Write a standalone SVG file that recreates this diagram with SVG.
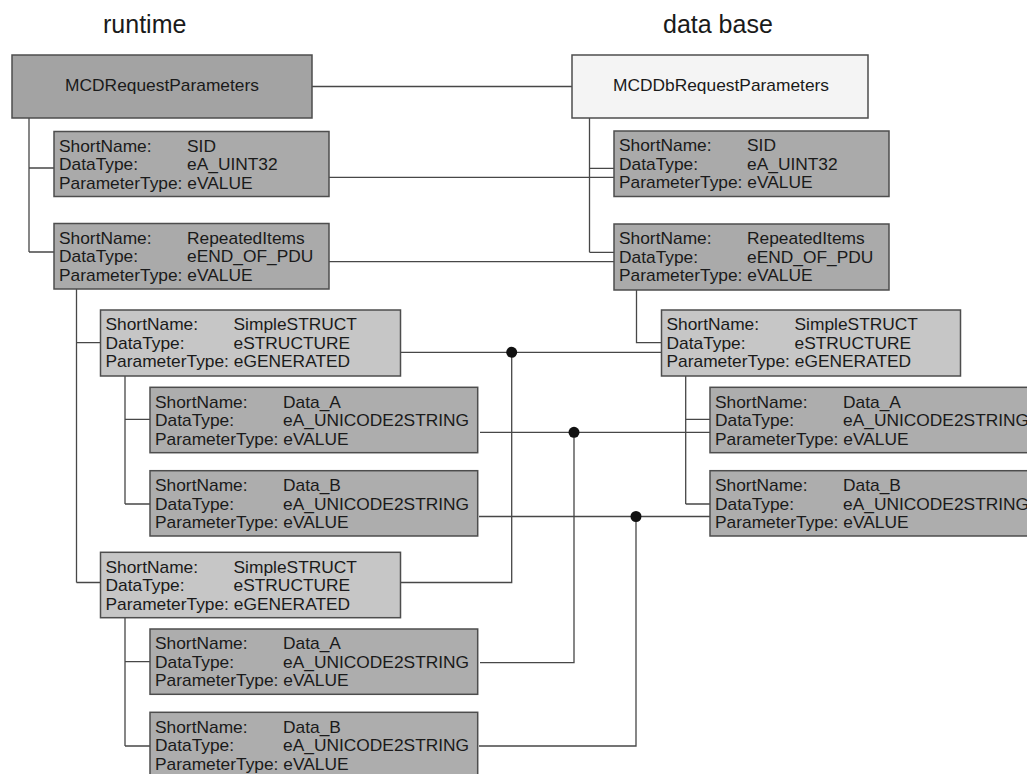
<svg xmlns="http://www.w3.org/2000/svg" width="1027" height="774" viewBox="0 0 1027 774">
  <style>
    .bg { fill: #ffffff; }
    .box { stroke: #4d4d4d; stroke-width: 1.5; }
    .hdrRt { fill: #a3a3a3; }
    .hdrDb { fill: #f4f4f4; }
    .param { fill: #aaaaaa; }
    .struct { fill: #c6c6c6; }
    .data { fill: #adadad; }
    .t { font-family: "Liberation Sans", Arial, sans-serif; font-size: 16px; fill: #1a1a1a; }
    .title { font-family: "Liberation Sans", Arial, sans-serif; font-size: 25px; fill: #1a1a1a; }
    .wire { fill: none; stroke: #474747; stroke-width: 1.3; }
    .dot { fill: #111111; stroke: none; }
  </style>

  <rect class="bg" x="0" y="0" width="1027" height="774"/>

  <!-- column titles -->
  <text class="title" x="103" y="33">runtime</text>
  <text class="title" x="663" y="33">data base</text>

  <!-- connectors -->
  <g id="connectors" class="wire">
    <!-- runtime tree -->
    <path d="M29,118 V252 M29,168 H54 M29,252 H54"/>
    <path d="M76.5,289 V582.5 M76.5,342.7 H100.5 M76.5,582.5 H100.5"/>
    <path d="M125,376 V504 M125,419.3 H150 M125,504 H150"/>
    <path d="M125,617.7 V746 M125,661.7 H150 M125,746 H150"/>
    <!-- data base tree -->
    <path d="M589.5,118 V252.3 M589.5,168.3 H614 M589.5,252.3 H614"/>
    <path d="M636.5,290 V342.7 H661.5"/>
    <path d="M685.7,376 V504 M685.7,419.3 H710 M685.7,504 H710"/>
    <!-- runtime to data base links -->
    <path d="M312,86.5 H572"/>
    <path d="M329,177.3 H614"/>
    <path d="M329,261.7 H614"/>
    <path d="M400.5,352.3 H661.5 M511.7,352.3 V582.5 H395"/>
    <path d="M480,432.3 H710 M574,432.3 V662.7 H480"/>
    <path d="M479,516.5 H710 M636,516.5 V746 H479"/>
    <circle class="dot" cx="511.7" cy="352.3" r="5.5"/>
    <circle class="dot" cx="574" cy="432.3" r="5.5"/>
    <circle class="dot" cx="636" cy="516.5" r="5.5"/>
  </g>

  <!-- runtime side -->
  <g id="rt-request">
    <rect class="box hdrRt" x="12" y="55" width="300" height="63"/>
    <g transform="translate(162,91) scale(1.085,1)">
      <text class="t" x="0" y="0" text-anchor="middle">MCDRequestParameters</text>
    </g>
  </g>

  <g id="rt-sid" transform="translate(54,131.5)">
    <rect class="box param" width="275" height="65"/>
    <g transform="scale(1.085,1)">
      <text class="t" x="4.6" y="20.5">ShortName:</text><text class="t" x="122.6" y="20.5">SID</text>
      <text class="t" x="4.6" y="39">DataType:</text><text class="t" x="122.6" y="39">eA_UINT32</text>
      <text class="t" x="4.6" y="57.5">ParameterType: eVALUE</text>
    </g>
  </g>

  <g id="rt-repeated" transform="translate(54,223.5)">
    <rect class="box param" width="275" height="65.5"/>
    <g transform="scale(1.085,1)">
      <text class="t" x="4.6" y="20.5">ShortName:</text><text class="t" x="122.6" y="20.5">RepeatedItems</text>
      <text class="t" x="4.6" y="39">DataType:</text><text class="t" x="122.6" y="39">eEND_OF_PDU</text>
      <text class="t" x="4.6" y="57.5">ParameterType: eVALUE</text>
    </g>
  </g>

  <g id="rt-struct1" transform="translate(100.5,310)">
    <rect class="box struct" width="300" height="66"/>
    <g transform="scale(1.085,1)">
      <text class="t" x="4.6" y="20.5">ShortName:</text><text class="t" x="122.6" y="20.5">SimpleSTRUCT</text>
      <text class="t" x="4.6" y="39">DataType:</text><text class="t" x="122.6" y="39">eSTRUCTURE</text>
      <text class="t" x="4.6" y="57.5">ParameterType: eGENERATED</text>
    </g>
  </g>

  <g id="rt-data-a1" transform="translate(150,387.3)">
    <rect class="box data" width="327.7" height="65.4"/>
    <g transform="scale(1.085,1)">
      <text class="t" x="4.6" y="20.5">ShortName:</text><text class="t" x="122.6" y="20.5">Data_A</text>
      <text class="t" x="4.6" y="39">DataType:</text><text class="t" x="122.6" y="39">eA_UNICODE2STRING</text>
      <text class="t" x="4.6" y="57.5">ParameterType: eVALUE</text>
    </g>
  </g>

  <g id="rt-data-b1" transform="translate(150,470.7)">
    <rect class="box data" width="327.7" height="65.3"/>
    <g transform="scale(1.085,1)">
      <text class="t" x="4.6" y="20.5">ShortName:</text><text class="t" x="122.6" y="20.5">Data_B</text>
      <text class="t" x="4.6" y="39">DataType:</text><text class="t" x="122.6" y="39">eA_UNICODE2STRING</text>
      <text class="t" x="4.6" y="57.5">ParameterType: eVALUE</text>
    </g>
  </g>

  <g id="rt-struct2" transform="translate(100.5,552.3)">
    <rect class="box struct" width="300" height="65.4"/>
    <g transform="scale(1.085,1)">
      <text class="t" x="4.6" y="20.5">ShortName:</text><text class="t" x="122.6" y="20.5">SimpleSTRUCT</text>
      <text class="t" x="4.6" y="39">DataType:</text><text class="t" x="122.6" y="39">eSTRUCTURE</text>
      <text class="t" x="4.6" y="57.5">ParameterType: eGENERATED</text>
    </g>
  </g>

  <g id="rt-data-a2" transform="translate(150,629)">
    <rect class="box data" width="327.7" height="65.3"/>
    <g transform="scale(1.085,1)">
      <text class="t" x="4.6" y="20.5">ShortName:</text><text class="t" x="122.6" y="20.5">Data_A</text>
      <text class="t" x="4.6" y="39">DataType:</text><text class="t" x="122.6" y="39">eA_UNICODE2STRING</text>
      <text class="t" x="4.6" y="57.5">ParameterType: eVALUE</text>
    </g>
  </g>

  <g id="rt-data-b2" transform="translate(150,712.3)">
    <rect class="box data" width="327.7" height="65.3"/>
    <g transform="scale(1.085,1)">
      <text class="t" x="4.6" y="20.5">ShortName:</text><text class="t" x="122.6" y="20.5">Data_B</text>
      <text class="t" x="4.6" y="39">DataType:</text><text class="t" x="122.6" y="39">eA_UNICODE2STRING</text>
      <text class="t" x="4.6" y="57.5">ParameterType: eVALUE</text>
    </g>
  </g>

  <!-- data base side -->
  <g id="db-request">
    <rect class="box hdrDb" x="572" y="55" width="296" height="63"/>
    <g transform="translate(721,91) scale(1.085,1)">
      <text class="t" x="0" y="0" text-anchor="middle">MCDDbRequestParameters</text>
    </g>
  </g>

  <g id="db-sid" transform="translate(614,131)">
    <rect class="box param" width="275" height="65.5"/>
    <g transform="scale(1.085,1)">
      <text class="t" x="4.6" y="20.5">ShortName:</text><text class="t" x="122.6" y="20.5">SID</text>
      <text class="t" x="4.6" y="39">DataType:</text><text class="t" x="122.6" y="39">eA_UINT32</text>
      <text class="t" x="4.6" y="57.5">ParameterType: eVALUE</text>
    </g>
  </g>

  <g id="db-repeated" transform="translate(614,224)">
    <rect class="box param" width="275" height="66"/>
    <g transform="scale(1.085,1)">
      <text class="t" x="4.6" y="20.5">ShortName:</text><text class="t" x="122.6" y="20.5">RepeatedItems</text>
      <text class="t" x="4.6" y="39">DataType:</text><text class="t" x="122.6" y="39">eEND_OF_PDU</text>
      <text class="t" x="4.6" y="57.5">ParameterType: eVALUE</text>
    </g>
  </g>

  <g id="db-struct" transform="translate(661.5,310)">
    <rect class="box struct" width="299" height="66"/>
    <g transform="scale(1.085,1)">
      <text class="t" x="4.6" y="20.5">ShortName:</text><text class="t" x="122.6" y="20.5">SimpleSTRUCT</text>
      <text class="t" x="4.6" y="39">DataType:</text><text class="t" x="122.6" y="39">eSTRUCTURE</text>
      <text class="t" x="4.6" y="57.5">ParameterType: eGENERATED</text>
    </g>
  </g>

  <g id="db-data-a" transform="translate(710,387.3)">
    <rect class="box data" width="330" height="65.4"/>
    <g transform="scale(1.085,1)">
      <text class="t" x="4.6" y="20.5">ShortName:</text><text class="t" x="122.6" y="20.5">Data_A</text>
      <text class="t" x="4.6" y="39">DataType:</text><text class="t" x="122.6" y="39">eA_UNICODE2STRING</text>
      <text class="t" x="4.6" y="57.5">ParameterType: eVALUE</text>
    </g>
  </g>

  <g id="db-data-b" transform="translate(710,470.7)">
    <rect class="box data" width="330" height="65.3"/>
    <g transform="scale(1.085,1)">
      <text class="t" x="4.6" y="20.5">ShortName:</text><text class="t" x="122.6" y="20.5">Data_B</text>
      <text class="t" x="4.6" y="39">DataType:</text><text class="t" x="122.6" y="39">eA_UNICODE2STRING</text>
      <text class="t" x="4.6" y="57.5">ParameterType: eVALUE</text>
    </g>
  </g>
</svg>
